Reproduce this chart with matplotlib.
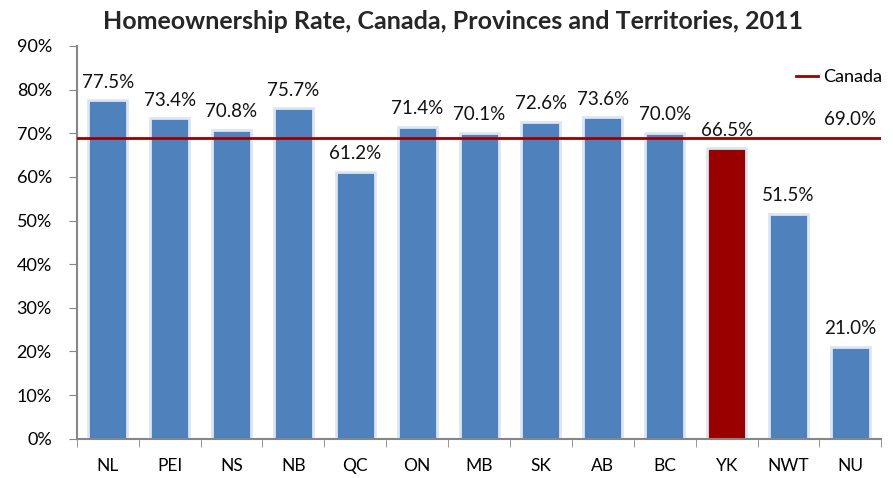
import numpy as np
import matplotlib.pyplot as plt
from matplotlib.ticker import FuncFormatter

regions = ["NL", "PEI", "NS", "NB", "QC", "ON", "MB", "SK", "AB", "BC", "YK", "NWT", "NU"]
rates = [77.5, 73.4, 70.8, 75.7, 61.2, 71.4, 70.1, 72.6, 73.6, 70.0, 66.5, 51.5, 21.0]
canada = 69.0

plt.rcParams["font.family"] = ["Lato", "DejaVu Sans"]

fig = plt.figure(figsize=(8.93, 4.78), dpi=100)
ax = fig.add_axes([0.086, 0.082, 0.901, 0.822])

x = np.arange(len(regions))
colors = ["#990000" if r == "YK" else "#4F81BD" for r in regions]
ax.bar(x, rates, width=0.63, color=colors, edgecolor="#DCE6F2", linewidth=2, zorder=2)

for xi, v in zip(x, rates):
    ax.annotate("%.1f%%" % v, (xi, v), xytext=(0, 7), textcoords="offset points",
                ha="center", va="bottom", fontsize=13.5, color="#111111")

ax.axhline(canada, color="#990000", linewidth=2, zorder=3, label="Canada")
ax.annotate("%.1f%%" % canada, (len(regions) - 1, canada), xytext=(0, 7),
            textcoords="offset points", ha="center", va="bottom", fontsize=13.5, color="#111111")

ax.set_xlim(-0.5, len(regions) - 0.5)
ax.set_ylim(0, 90)
ax.set_yticks(np.arange(0, 91, 10))
ax.yaxis.set_major_formatter(FuncFormatter(lambda v, p: "%d%%" % v))
ax.set_xticks(x)
ax.set_xticklabels(regions)
ax.set_xticks(np.arange(-0.5, len(regions), 1), minor=True)
ax.tick_params(axis="x", which="major", length=0, pad=14, labelsize=12.5)
ax.tick_params(axis="x", which="minor", length=6, color="#868686")
ax.tick_params(axis="y", length=6, color="#868686", labelsize=13, pad=12)

for s in ["top", "right"]:
    ax.spines[s].set_visible(False)
for s in ["left", "bottom"]:
    ax.spines[s].set_color("#868686")
    ax.spines[s].set_linewidth(1.5)

ax.legend(loc="upper right", bbox_to_anchor=(1.01, 0.96), frameon=False, fontsize=13,
          handlelength=1.2, handletextpad=0.3, borderaxespad=0)

fig.text(0.507, 0.955, "Homeownership Rate, Canada, Provinces and Territories, 2011",
         ha="center", va="center", fontsize=18, fontweight="bold", color="#262626")

fig.savefig("out.png", dpi=100)
